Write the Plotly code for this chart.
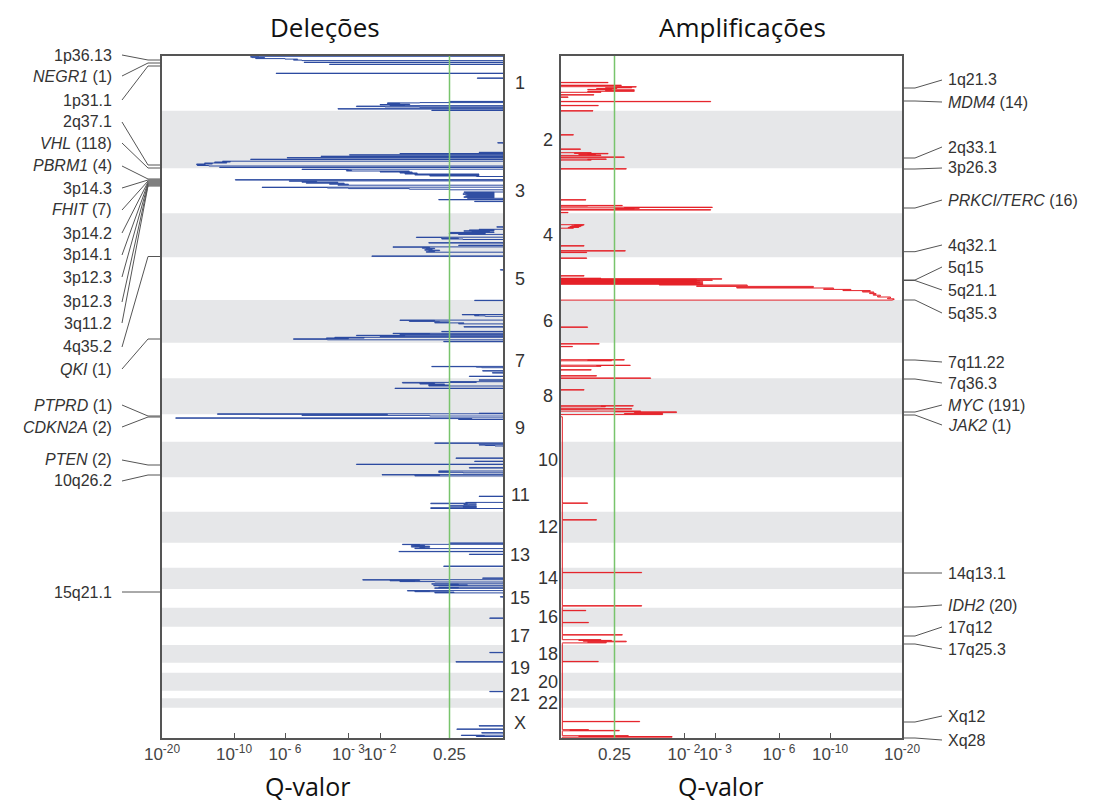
import numpy as np
import plotly.graph_objects as go

# ---------------- data ----------------
chrom_names = [str(i) for i in range(1, 23)] + ["X"]
# chromosome lengths in genome plot units
chrom_len = [54.7, 57.6, 45, 44, 42.7, 42.7, 35.6, 36, 27.4, 35.6, 34.4, 31, 25,
             21.3, 18.7, 19, 18.3, 17.7, 10, 18, 7.6, 9.4, 30.3]

# deletion q-value profile along the genome: position and -log10(q)
del_pos = [
    0.0, 0.3, 0.6, 1.1, 1.6, 2.1, 2.6, 3.1, 3.6, 4.1, 4.6, 5.0, 6.2, 6.5, 6.8, 8.2, 8.5, 8.8,
    17.2, 17.5, 17.8, 22.0, 22.3, 22.6,
    45.4, 45.7, 46.0, 46.6, 46.9, 47.3, 47.7, 48.1, 48.5, 48.9, 49.3, 49.7, 50.1, 50.6, 51.0,
    51.4, 51.8, 52.7, 53.0, 53.3, 54.2, 54.5, 54.8,
    86.7, 87.0, 87.3,
    96.3, 96.6, 96.9, 97.5, 97.8, 98.1, 98.8, 99.1, 99.4, 100.2, 100.5, 100.8, 101.6, 101.9,
    102.2, 103.2, 103.5, 103.8,
    105.2, 105.5, 106.0, 106.5, 107.0, 107.5, 108.0, 108.5, 109.0, 109.5, 110.0, 110.4, 111.2,
    111.5, 111.8,
    113.2, 113.5, 114.0, 114.5, 115.0, 115.5, 116.0, 116.5, 117.0, 117.5, 118.0, 118.5, 119.0,
    119.5, 120.0, 120.5, 121.0,
    123.7, 124.0, 124.3, 124.9, 125.2, 125.7, 126.2, 126.7, 127.2, 127.7, 128.2, 128.7, 129.2,
    129.6,
    131.2, 131.5, 132.0, 132.6, 133.2, 133.8, 134.3,
    136.0, 136.3, 136.8, 137.3, 137.8, 138.3, 138.8, 139.3, 139.8, 140.3, 140.8, 141.3, 141.8,
    142.3, 142.8, 143.5, 143.8, 144.1, 145.3, 145.6, 145.9,
    170.8, 171.1, 171.4, 173.3, 173.6, 174.0, 174.4, 174.8, 175.2, 175.6, 176.0, 176.4, 176.8,
    177.2, 177.6, 178.0, 178.4, 178.8,
    181.2, 181.5, 182.0, 182.5, 183.0, 183.5, 184.0, 186.7, 187.0, 187.3, 189.2, 189.5, 189.8,
    190.9, 191.2, 191.7, 192.2, 192.7, 193.2, 193.7, 194.2, 194.7, 195.2, 195.7, 196.2, 196.7,
    200.0, 200.3, 200.6,
    213.7, 214.0, 214.3, 244.3, 244.6, 244.9,
    258.5, 258.8, 259.3, 259.8, 260.3, 260.8, 264.1, 264.4, 264.9, 265.4, 265.9, 266.4, 266.9,
    267.4, 267.9, 268.4,
    270.7, 271.0, 271.3, 275.4, 275.7, 276.0,
    277.3, 277.6, 278.0, 278.4, 278.8, 279.3, 279.6, 280.0, 280.4, 280.8, 281.3, 281.6, 282.0,
    282.4, 282.8, 283.3, 283.8, 284.2, 285.4, 285.7, 286.0,
    310.4, 310.7, 311.2, 311.7, 312.2, 314.7, 315.0, 315.3, 316.7, 317.0, 317.3, 320.2, 320.5,
    320.8,
    323.9, 324.2, 324.5, 325.7, 326.0, 326.4, 327.0, 327.5, 328.0, 328.5, 329.0, 329.5, 330.0,
    330.5, 332.2, 332.5, 332.8,
    357.2, 357.5, 357.8, 358.3, 358.8, 359.4, 360.0, 360.4, 361.9, 362.2, 362.6, 363.0, 363.5,
    364.0,
    387.0, 387.3, 387.6, 388.7, 389.0, 389.5, 390.0, 390.4, 402.0, 402.3, 402.6, 405.2, 405.5,
    405.8,
    408.2, 408.5, 408.8, 411.7, 412.0, 412.3, 415.0, 415.3, 415.8, 416.3, 416.8, 417.3, 418.6,
    418.9, 419.4, 419.9, 420.4,
    440.2, 440.5, 440.8, 446.4, 446.7, 447.2, 447.7, 448.2, 448.7, 449.2, 449.7, 450.2, 450.7,
    451.2, 451.7, 452.5, 453.0,
    487.0, 487.3, 487.6, 488.3, 488.6, 489.0, 489.4, 489.8, 490.2, 490.6, 491.0, 491.4, 491.8,
    492.2, 492.6, 493.0,
    495.4, 495.7, 496.0, 498.2, 498.5, 498.8, 510.1, 510.4, 510.7,
    522.0, 522.3, 522.6, 523.7, 524.0, 524.4, 524.8, 525.2, 525.6, 526.0, 526.4,
    527.8, 528.1, 528.5, 528.9, 529.3, 529.7, 530.1, 531.2, 531.5, 531.9, 532.3, 532.7,
    534.6, 534.9, 535.3, 535.7, 536.1, 536.5, 536.9, 537.3, 540.7, 541.0, 541.3,
    562.0, 562.3, 562.6, 596.4, 596.7, 597.0, 605.7, 606.0, 606.3, 635.4, 635.7, 636.0,
    669.7, 670.0, 670.3, 673.0, 673.3, 673.6, 676.7, 677.0, 677.3, 679.2, 679.5, 680.0, 680.5,
    681.0,
]
del_mlog10q = [
    0, 0, 8.0, 8.7, 8.6, 7.6, 8.3, 6.0, 5.4, 5.6, 5.2, 0, 0, 5.1, 0, 0, 3.9, 0,
    0, 6.7, 0, 0, 0.29, 0,
    0, 0.61, 0, 0, 1.2, 1.85, 1.6, 1.85, 1.4, 2.0, 1.5, 1.8, 0, 2.75, 1.9,
    1.2, 0, 0, 3.5, 0, 0, 0.96, 0,
    0, 0.06, 0,
    0, 0.27, 0, 0, 1.6, 0, 0, 2.97, 0, 0, 4.3, 0, 0, 5.9,
    0, 0, 8.7, 0,
    0, 11.6, 10.5, 12.7, 11.0, 14.1, 13.0, 15.2, 14.0, 15.1, 13.5, 0, 0,
    12.0, 0,
    0, 5.2, 3.0, 2.9, 3.1, 1.41, 2.0, 1.35, 1.6, 1.25, 1.5, 0.27, 1.3,
    0.27, 1.0, 0.3, 0,
    0, 9.9, 0, 0, 5.8, 4.5, 5.2, 3.5, 5.0, 3.2, 3.9, 3.0, 3.5,
    0,
    0, 7.8, 4.0, 3.0, 1.41, 0.6, 0,
    0, 0.44, 0.1, 0.42, 0.1, 0.45, 0.1, 0.4, 0.1, 0.42, 0.1, 0.44, 0.1,
    0.4, 0, 0, 0.82, 0, 0, 0.32, 0,
    0, 0.07, 0, 0, 0.27, 0.1, 0.38, 0.1, 0.44, 0.15, 0.35, 0.1, 0.6,
    0.2, 0.61, 0.2, 0.5, 0,
    0, 1.27, 0.76, 0.5, 0.76, 0.45, 0, 0, 1.02, 0, 0, 0.5, 0,
    0, 1.74, 1.0, 1.15, 0.9, 1.07, 0.95, 1.1, 0.8, 1.02, 0.9, 1.07, 0,
    0, 2.26, 0,
    0, 0.03, 0, 0, 0.32, 0,
    0, 0.46, 0.27, 0.32, 0.2, 0, 0, 1.6, 0.9, 1.41, 0.8, 0.61, 0.9,
    0.44, 0.5, 0,
    0, 0.44, 0, 0, 0.76, 0,
    0, 1.74, 1.0, 1.6, 0, 0, 2.75, 1.5, 2.0, 0, 0, 3.65, 2.5,
    4.05, 3.0, 5.6, 4.0, 0, 0, 0.72, 0,
    0, 0.96, 0.3, 0.24, 0, 0, 0.23, 0, 0, 0.12, 0, 0, 0.38,
    0,
    0, 0.27, 0, 0, 0.61, 0.3, 1.55, 0.9, 1.2, 0.7, 1.02, 0.6, 1.02,
    0, 0, 1.7, 0,
    0, 0.27, 0, 12.3, 1.85, 5.2, 1.0, 0, 0, 18.1, 8.0, 0.35, 0.5,
    0,
    0, 0.9, 0, 0, 0.27, 0.2, 0.09, 0, 0, 0.53, 0, 0, 0.32,
    0,
    0, 2.75, 0, 0, 0.38, 0, 0, 0.82, 0.6, 0.82, 0.45, 0, 0,
    1.96, 0.8, 1.3, 0,
    0, 0.27, 0, 0, 0.42, 0.3, 0.98, 0.4, 0.44, 0.3, 0.38, 0.6, 0.3,
    0.45, 0.3, 0.98, 0,
    0, 0.61, 0, 0, 1.55, 1.2, 1.37, 1.1, 1.3, 1.0, 1.37, 1.1, 1.2,
    1.0, 1.3, 0,
    0, 1.62, 0, 0, 0.38, 0, 0, 0.72, 0,
    0, 0.23, 0, 0, 2.55, 1.2, 1.8, 1.3, 1.6, 0.9, 0,
    0, 0.96, 0.5, 0.61, 0.4, 0.92, 0, 0, 0.82, 0.5, 0.9, 0,
    0, 1.45, 1.0, 1.3, 0.6, 0.55, 0.9, 0, 0, 0.03, 0,
    0, 0.15, 0, 0, 0.15, 0, 0, 0.53, 0, 0, 0.15, 0,
    0, 0.27, 0, 0, 0.52, 0, 0, 0.24, 0, 0, 0.47, 0.21, 0.3,
    0,
]

# amplification q-value profile along the genome: position and -log10(q)
amp_pos = [
    0.0, 26.4, 26.7, 27.0, 29.2, 29.5, 29.8,
    30.7, 31.0, 31.4, 31.8, 32.2, 32.6, 33.0, 33.4, 33.8, 34.3, 34.8, 35.3, 35.8, 36.3, 36.8,
    38.7, 39.0, 39.3, 41.0, 41.3, 41.6, 45.4, 45.7, 46.0, 49.4, 49.7, 50.0, 54.7, 55.0, 55.3,
    78.7, 79.0, 79.3, 93.0, 93.3, 93.6,
    96.7, 97.0, 97.4, 97.8, 98.2, 98.6, 99.0, 99.4, 99.8, 101.0, 101.3, 101.6, 103.0, 103.3,
    103.7, 104.1, 104.5,
    112.7, 113.0, 113.3, 143.7, 144.0, 144.3,
    149.4, 149.7, 150.1, 150.5, 151.2, 151.5, 151.9, 152.3, 152.7, 153.1, 153.5, 153.7, 154.0,
    154.3, 156.4, 156.7, 157.0,
    168.7, 169.0, 169.4, 169.8, 170.2, 170.6, 171.0, 171.4, 171.8, 172.2, 172.6,
    189.7, 190.0, 190.3, 194.7, 195.0, 195.3, 196.3, 196.6, 196.9, 202.0, 202.3, 202.6,
    219.7, 220.0, 220.3, 222.2, 222.5, 222.8, 223.1, 223.4, 223.7, 224.0, 224.3, 224.6, 224.9,
    225.2, 225.5, 225.8, 226.1, 226.4, 226.7, 227.0, 227.3, 227.6, 227.9, 228.2,
    228.5, 229.0, 229.8, 230.4, 231.4, 232.0, 232.8, 233.4, 234.0, 234.6, 235.3, 236.0, 236.8,
    237.6, 238.4, 239.2, 240.2, 241.0, 242.0, 242.8, 243.6, 244.1, 244.5,
    271.0, 271.3, 271.6, 287.7, 288.0, 288.3, 290.4, 290.7, 291.0,
    303.7, 304.0, 304.4, 304.8, 305.2, 309.2, 309.5, 309.9, 310.3, 310.7,
    313.7, 314.0, 314.3, 319.7, 320.0, 320.3, 322.0, 322.3, 322.6,
    333.7, 334.0, 334.3, 349.7, 350.0, 350.4, 350.8, 351.2, 352.7, 353.0, 353.4, 353.8,
    355.1, 355.4, 355.8, 356.6, 357.0, 357.6, 358.0, 358.6, 359.0, 360.8, 361.0,
    447.0, 447.3, 447.6, 463.7, 464.0, 464.3, 516.4, 516.7, 517.0, 549.7, 550.0, 550.3,
    554.4, 554.7, 555.0, 566.4, 566.7, 567.0, 578.7, 579.0, 579.3,
    583.7, 584.0, 584.4, 584.8, 585.2, 585.8, 586.3, 586.9, 587.4, 605.4, 605.7, 606.0,
    665.4, 665.7, 666.0, 673.7, 674.0, 674.4, 674.8, 675.2, 679.7, 680.0, 680.5, 681.2, 681.7,
    682.0,
]
amp_mlog10q = [
    0, 0, 0.53, 0, 0, 0.74, 0,
    0, 1.04, 0.6, 0.95, 0.5, 0.65, 0.4, 0.57, 0.3, 1.0, 0.5, 1.0, 0.3, 0.45, 0,
    0, 0.37, 0, 0, 0.08, 0, 0, 2.85, 0, 0, 0.42, 0, 0, 0.36, 0,
    0, 0.14, 0, 0, 0.22, 0,
    0, 0.34, 0.15, 0.53, 0.3, 0.39, 0.2, 0.45, 0, 0, 0.8, 0, 0, 0.51,
    0.3, 0.34, 0,
    0, 0.84, 0, 0, 0.28, 0,
    0, 0.76, 0.3, 0, 0, 2.9, 0.8, 1.1, 0.6, 1.0, 0, 0, 2.85,
    0, 0, 0.08, 0,
    0, 0.26, 0.15, 0.24, 0.12, 0.22, 0.1, 0.2, 0.08, 0.14, 0,
    0, 0.26, 0, 0, 0.82, 0, 0, 0.29, 0, 0, 0.29, 0,
    0, 0.26, 0, 0, 0.45, 0, 3.3, 0, 2.4, 0, 2.9, 0, 2.5,
    0, 2.4, 0, 2.6, 0, 2.5, 0, 2.6, 0, 2.4, 0,
    2.6, 1.5, 4.5, 2.4, 8.7, 4.0, 10.5, 9.5, 12.9, 11.8, 15.6, 14.5, 16.1,
    15.5, 16.4, 16.0, 17.0, 16.6, 18.4, 18.0, 18.9, 18.7, 0,
    0, 0.3, 0, 0, 0.43, 0, 0, 0.13, 0,
    0, 0.8, 0.3, 0.57, 0, 0, 0.92, 0.4, 0.45, 0,
    0, 0.34, 0, 0, 0.4, 0, 0, 1.33, 0,
    0, 0.26, 0, 0, 0.98, 0.45, 0.5, 0, 0, 0.95, 0.4, 0,
    0, 1.13, 0.6, 1.85, 1.0, 1.57, 0.8, 1.57, 0, 0, 0.015,
    0.015, 0.3, 0.015, 0.015, 0.4, 0.015, 0.015, 1.15, 0.015, 0.015, 1.15, 0.015,
    0.015, 0.28, 0.015, 0.015, 0.31, 0.015, 0.015, 0.76, 0.015,
    0.015, 0.45, 0.2, 0.57, 0.25, 0.84, 0.3, 0.51, 0.015, 0.015, 0.42, 0.015,
    0.015, 1.11, 0.015, 0.015, 0.31, 0.1, 0.7, 0.015, 0.015, 0.88, 0.2, 1.76, 0.015,
    0.015,
]
assert len(del_pos) == len(del_mlog10q)
assert len(amp_pos) == len(amp_mlog10q)

# axis scale of the GISTIC plot (-log10 q  ->  plotted distance)
scale_mlog10q = [0, 0.602, 2, 3, 6, 10, 20]
scale_dist = [0, 53.5, 123, 154.5, 218, 269, 341]
tick_mlog10q = [20, 10, 6, 3, 2, 0.602]
tick_text = ["10<sup>-20</sup>", "10<sup>-10</sup>", "10<sup>- 6</sup>", "10<sup>- 3</sup>",
             "10<sup>- 2</sup>", "0.25"]
q_threshold = 0.602  # q = 0.25

del_labels = ["1p36.13", "<i>NEGR1</i> (1)", "1p31.1", "2q37.1", "<i>VHL</i> (118)",
              "<i>PBRM1</i> (4)", "3p14.3", "<i>FHIT</i> (7)", "3p14.2", "3p14.1", "3p12.3",
              "3p12.3", "3q11.2", "4q35.2", "<i>QKI</i> (1)", "<i>PTPRD</i> (1)",
              "<i>CDKN2A</i> (2)", "<i>PTEN</i> (2)", "10q26.2", "15q21.1"]
del_label_pos = [4, 7, 10, 109, 112, 123, 124, 125, 126, 127, 128, 129, 130, 200.5, 283,
                 360, 361, 409, 419, 536]
amp_labels = ["1q21.3", "<i>MDM4</i> (14)", "2q33.1", "3p26.3", "<i>PRKCI/TERC</i> (16)",
              "4q32.1", "5q15", "5q21.1", "5q35.3", "7q11.22", "7q36.3", "<i>MYC</i> (191)",
              "<i>JAK2</i> (1)", "14q13.1", "<i>IDH2</i> (20)", "17q12", "17q25.3", "Xq12", "Xq28"]
amp_label_pos = [32, 45, 102, 113, 152, 195.7, 224, 224.5, 244, 304, 323, 356, 359, 517, 551,
                 580, 588, 666, 682]

# ---------------- layout helpers ----------------
W, H = 1103, 803
TOP, BOT = 56, 738
L0, L1 = 162, 503
R0, R1 = 561, 902
GEN_TOTAL = float(np.sum(chrom_len))


def scale(v):
    return np.interp(np.asarray(v, dtype=float), scale_mlog10q, scale_dist)


def px(x):
    return x / W


def py(y):
    return 1 - y / H


def gen_to_paper(g):
    return py(TOP + (BOT - TOP) * g / GEN_TOTAL)


def profile_xy(pos, q):
    """Plot coordinates of a profile; runs along the zero baseline are left undrawn."""
    xs, ys = [], []
    for i, (p, v) in enumerate(zip(pos, q)):
        if i > 0 and v == 0 and q[i - 1] == 0:
            xs.append(None)
            ys.append(None)
        xs.append(float(scale(v)))
        ys.append(p)
    return xs, ys


chrom_start = np.concatenate([[0], np.cumsum(chrom_len)[:-1]])
chrom_center = chrom_start + np.array(chrom_len) / 2

fig = go.Figure()
dx, dy = profile_xy(del_pos, del_mlog10q)
fig.add_trace(go.Scatter(x=dx, y=dy, mode="lines", connectgaps=False,
                         line=dict(color="#2c4aa0", width=1.0, shape="hv"),
                         xaxis="x", yaxis="y", showlegend=False, hoverinfo="skip"))
ax_, ay_ = profile_xy(amp_pos, amp_mlog10q)
fig.add_trace(go.Scatter(x=ax_, y=ay_, mode="lines", connectgaps=False,
                         line=dict(color="#e52229", width=1.0, shape="hv"),
                         xaxis="x2", yaxis="y2", showlegend=False, hoverinfo="skip"))

shapes = []
for i, (s, l) in enumerate(zip(chrom_start, chrom_len)):
    if i % 2 == 1:
        for xr, yr in (("x domain", "y"), ("x2 domain", "y2")):
            shapes.append(dict(type="rect", xref=xr, yref=yr, x0=0, x1=1, y0=s, y1=s + l,
                               fillcolor="#e6e7e9", line=dict(width=0), layer="below"))
for xr, yr in (("x", "y domain"), ("x2", "y2 domain")):
    shapes.append(dict(type="line", xref=xr, yref=yr, x0=float(scale(q_threshold)),
                       x1=float(scale(q_threshold)), y0=0, y1=1,
                       line=dict(color="#78c46c", width=1.5), layer="above"))

annotations = []
lab_font = dict(family="Liberation Sans, Arial", size=16, color="#333333")
del_text_y = [55, 76, 100, 122, 143, 166, 188, 210, 233, 255, 277, 302, 323, 347, 369,
              405, 427, 460, 481, 592]
for t, ty, g in zip(del_labels, del_text_y, del_label_pos):
    annotations.append(dict(text=t, x=px(114), y=py(ty), xref="paper", yref="paper",
                            xanchor="right", yanchor="middle", showarrow=False, font=lab_font))
    gy = gen_to_paper(g)
    shapes.append(dict(type="path", xref="paper", yref="paper",
                       path=f"M {px(122)},{py(ty)} L {px(148)},{gy} L {px(L0)},{gy}",
                       line=dict(color="#555555", width=1)))
amp_text_y = [80, 102, 147, 168, 200, 245, 267, 290, 313, 362, 383, 405, 425, 573, 605,
              627, 649, 716, 740]
for t, ty, g in zip(amp_labels, amp_text_y, amp_label_pos):
    annotations.append(dict(text=t, x=px(946), y=py(ty), xref="paper", yref="paper",
                            xanchor="left", yanchor="middle", showarrow=False, font=lab_font))
    gy = gen_to_paper(g)
    shapes.append(dict(type="path", xref="paper", yref="paper",
                       path=f"M {px(R1)},{gy} L {px(915)},{gy} L {px(942)},{py(ty)}",
                       line=dict(color="#555555", width=1)))

chr_font = dict(family="Liberation Sans, Arial", size=18, color="#333333")
for i, (name, c) in enumerate(zip(chrom_names, chrom_center)):
    if i % 2 == 0:
        annotations.append(dict(text=name, x=px(520), y=c, xref="paper", yref="y",
                                xanchor="center", yanchor="middle", showarrow=False, font=chr_font))
    else:
        annotations.append(dict(text=name, x=px(548), y=c, xref="paper", yref="y2",
                                xanchor="center", yanchor="middle", showarrow=False, font=chr_font))

title_font = dict(family="Open Sans", size=26, color="#111111")
for t, x, y in (("Deleções", 325, 27), ("Amplificações", 742, 27)):
    annotations.append(dict(text=t, x=px(x), y=py(y), xref="paper", yref="paper",
                            xanchor="center", yanchor="middle", showarrow=False, font=title_font))
for t, x in (("Q-valor", 307), ("Q-valor", 720)):
    annotations.append(dict(text=t, x=px(x), y=py(786), xref="paper", yref="paper",
                            xanchor="center", yanchor="middle", showarrow=False,
                            font=dict(family="Open Sans", size=25, color="#111111")))

axis_common = dict(showgrid=False, zeroline=False, showline=True, mirror=True,
                   linecolor="#555555", linewidth=1.5, automargin=False)
tickvals = [float(v) for v in scale(tick_mlog10q)]
xtick = dict(tickmode="array", tickvals=tickvals, ticktext=tick_text, ticks="inside",
             ticklen=5, tickcolor="#555555", tickangle=0,
             tickfont=dict(family="Liberation Sans, Arial", size=17, color="#444444"))

fig.update_layout(
    width=W, height=H, margin=dict(l=0, r=0, t=0, b=0, autoexpand=False),
    paper_bgcolor="white", plot_bgcolor="white",
    xaxis=dict(domain=[px(L0), px(L1)], range=[scale_dist[-1], 0], anchor="y",
               **axis_common, **xtick),
    yaxis=dict(domain=[py(BOT), py(TOP)], range=[GEN_TOTAL, 0], anchor="x",
               showticklabels=False, ticks="", **axis_common),
    xaxis2=dict(domain=[px(R0), px(R1)], range=[0, scale_dist[-1]], anchor="y2",
                **axis_common, **xtick),
    yaxis2=dict(domain=[py(BOT), py(TOP)], range=[GEN_TOTAL, 0], anchor="x2",
                showticklabels=False, ticks="", **axis_common),
    shapes=shapes, annotations=annotations,
)

fig.write_html("out.html")
